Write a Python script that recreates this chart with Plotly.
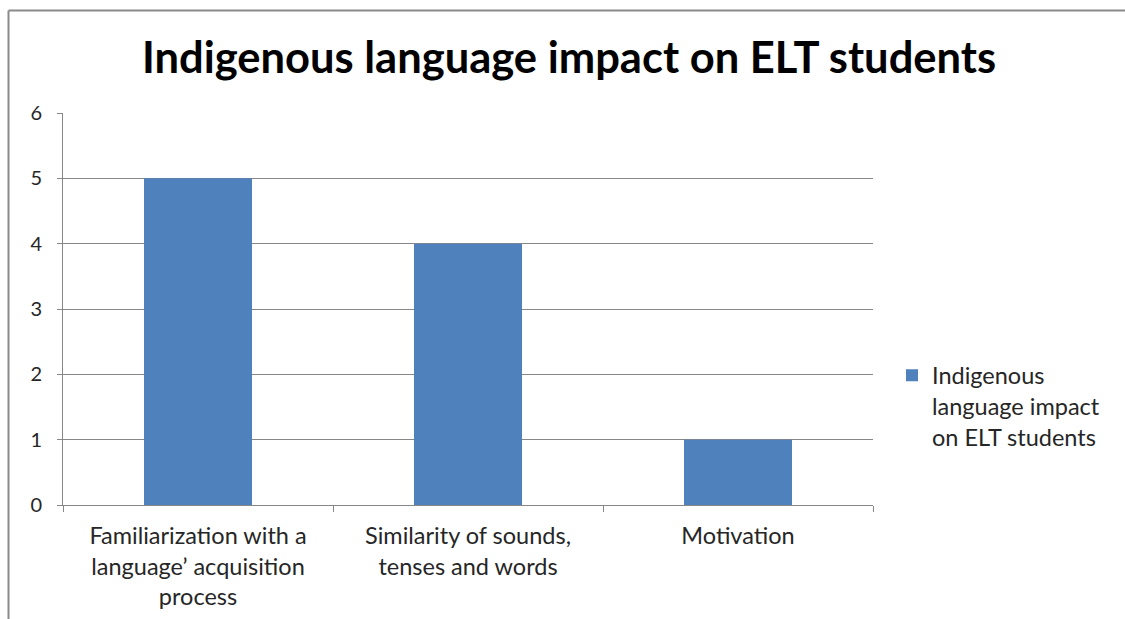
import plotly.graph_objects as go

categories = ["Familiarization with a<br>language’ acquisition<br>process",
              "Similarity of sounds,<br>tenses and words",
              "Motivation"]
values = [5, 4, 1]
series_name = "Indigenous<br>language impact<br>on ELT students"
title_text = "Indigenous language impact on ELT students"
y_ticks = [0, 1, 2, 3, 4, 5, 6]

W, H = 1125, 619
L, R, T, B = 63, 252, 113, 114
pw, ph = W - L - R, H - T - B

grid = "#878787"
font = "Lato, 'Open Sans', sans-serif"
txt = "#262626"

fig = go.Figure()
fig.add_trace(go.Bar(x=categories, y=values, name=series_name,
                     marker=dict(color="#4F81BD", line=dict(width=0)),
                     width=0.4, showlegend=True))

def px_x(x):
    return (x - L) / pw

def px_y(y):
    return (H - B - y) / ph

fig.update_layout(
    width=W, height=H,
    margin=dict(l=L, r=R, t=T, b=B, autoexpand=False),
    paper_bgcolor="white", plot_bgcolor="white",
    font=dict(family=font, size=23, color=txt),
    title=dict(text="<b>" + title_text + "</b>", x=px_x(569), xref="paper",
               xanchor="center", y=1 - 58 / H, yanchor="middle",
               font=dict(family=font, size=43.5, color="black")),
    xaxis=dict(type="category", showline=True, linecolor=grid, linewidth=1,
               ticks="outside", tickson="boundaries", ticklen=6, tickcolor=grid,
               showgrid=False, tickfont=dict(size=23.5, color=txt),
               ticklabelstandoff=10, range=[-0.5, 2.5], automargin=False),
    yaxis=dict(range=[0, 6], tickvals=y_ticks, showline=True, linecolor=grid,
               linewidth=1, ticks="outside", ticklen=5, tickcolor=grid,
               showgrid=True, gridcolor=grid, gridwidth=1, zeroline=False,
               tickfont=dict(size=20, color=txt), ticklabelstandoff=11,
               automargin=False),
    legend=dict(x=px_x(892), xanchor="left", y=px_y(406), yanchor="middle",
                valign="top", font=dict(size=23.5, color=txt),
                bgcolor="rgba(0,0,0,0)", itemwidth=30, tracegroupgap=0),
    bargap=0.6,
    shapes=[
        dict(type="line", xref="paper", yref="paper",
             x0=px_x(8.5), x1=px_x(W + 5), y0=px_y(10.5), y1=px_y(10.5),
             line=dict(color="#8a8a8a", width=2)),
        dict(type="line", xref="paper", yref="paper",
             x0=px_x(8.5), x1=px_x(8.5), y0=px_y(10.5), y1=px_y(H + 5),
             line=dict(color="#8a8a8a", width=2)),
    ],
)

fig.write_html("out.html")
